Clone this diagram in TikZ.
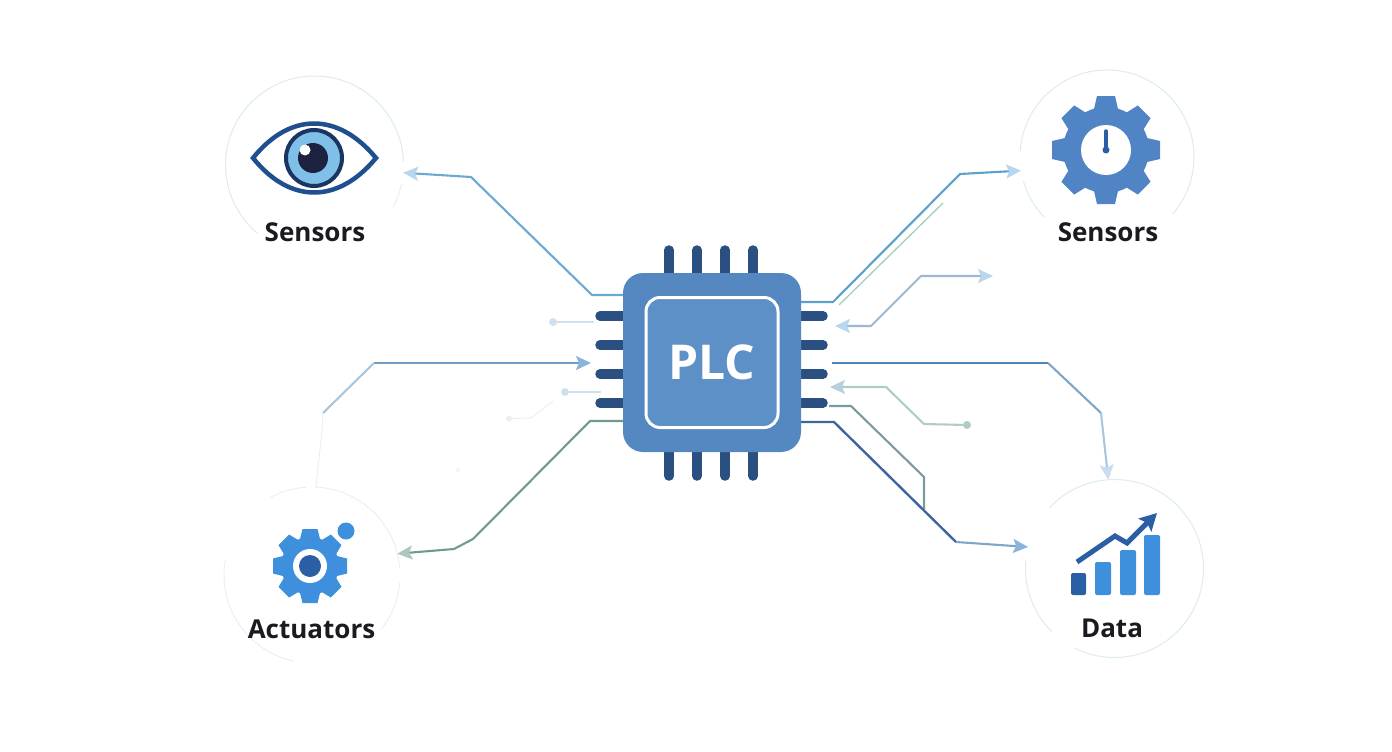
\documentclass[tikz,border=0pt]{standalone}
\usepackage{fontspec}
\usetikzlibrary{arrows.meta}
\setmainfont{Open Sans}
\definecolor{chipblue}{HTML}{5588C0}
\definecolor{chipinner}{HTML}{5E90C8}
\definecolor{pinblue}{HTML}{2A5082}
\definecolor{ringblue}{HTML}{DCEBF2}
\definecolor{ringfaint}{HTML}{E8F0F2}
\definecolor{inkblack}{HTML}{1A1A20}
\definecolor{iconblue}{HTML}{3F90DC}
\definecolor{iconnavy}{HTML}{2A5EA5}
\definecolor{gearblue}{HTML}{5084C4}
\definecolor{iconeye}{HTML}{1F4F8F}
\definecolor{eyedark}{HTML}{1A3560}
\definecolor{eyeblue}{HTML}{7FBFE8}
\definecolor{eyepupil}{HTML}{1C2240}
\definecolor{wireteal}{HTML}{6AAAD0}
\definecolor{wiresky}{HTML}{5EA0CC}
\definecolor{wiremint}{HTML}{A0CFC0}
\definecolor{wireslate}{HTML}{9DB8D0}
\definecolor{wiredeep}{HTML}{4F86B8}
\definecolor{wiremid}{HTML}{7FA5C8}
\definecolor{wirepale}{HTML}{A8C6DE}
\definecolor{wiresage}{HTML}{B0CCC8}
\definecolor{wiregrey}{HTML}{7A9AA0}
\definecolor{wiredark}{HTML}{3F65A0}
\definecolor{wiregreen}{HTML}{6F9A90}
\definecolor{stubblue}{HTML}{D0E0EC}
\definecolor{tipA}{HTML}{B8D6EE}
\definecolor{tipB}{HTML}{C8DEF0}
\definecolor{tipC}{HTML}{B8D0DC}
\definecolor{tipD}{HTML}{8AB4DC}
\definecolor{tipE}{HTML}{A8C8C0}
\tikzset{
  ringnode/.style={circle,minimum size=#1,inner sep=0pt,outer sep=0pt},
  ring/.style={draw=ringblue,line width=1pt},
  badge/.style={font=\bfseries\fontsize{26}{30}\selectfont,text=inkblack,inner sep=0pt},
  pinline/.style={draw=pinblue,line width=9.5pt,line cap=round},
  wire/.style={line width=2.1pt},
  tipped/.style={-{Stealth[length=15pt,width=14pt,inset=3pt,color=#1]}},
  tippedboth/.style={{Stealth[length=15pt,width=14pt,inset=3pt,color=#1]}-{Stealth[length=15pt,width=14pt,inset=3pt,color=#1]}},
  stub/.style={circle,fill=#1,inner sep=0pt,minimum size=8pt},
  bar/.style={fill=#1,rounded corners=2pt},
}
% gear: centre, body radius, outer radius, half base, half top, colour
\newcommand{\gearicon}[6]{
  \fill[#6] (#1) circle (#2pt);
  \foreach \a in {0,45,...,315}
    \fill[#6,shift={(#1)},rotate=\a] (-#4,#2-2) -- (-#5,#3) -- (#5,#3) -- (#4,#2-2) -- cycle;
}
\begin{document}
\begin{tikzpicture}[x=1pt,y=1pt]
  \useasboundingbox (0,0) rectangle (1392,-752);
  % rings
  \node[ringnode=178pt] (eyeRing) at (314.5,-165) {};
  \node[ringnode=174pt] (gearRing) at (1107,-157) {};
  \node[ringnode=176pt] (actRing) at (312,-575) {};
  \node[ringnode=178pt] (dataRing) at (1114.5,-568.5) {};
  \draw[ring] (eyeRing.2) arc[start angle=2,end angle=230,radius=89pt];
  \draw[ring,ringfaint] (eyeRing.-28) arc[start angle=-28,end angle=-12,radius=89pt];
  \draw[ring] (gearRing.-41) arc[start angle=-41,end angle=176,radius=87pt];
  \draw[ring] (gearRing.196) arc[start angle=196,end angle=224,radius=87pt];
  \draw[ring,ringfaint] (actRing.88) arc[start angle=88,end angle=4,radius=88pt];
  \draw[ring,ringfaint] (actRing.-5) arc[start angle=-5,end angle=-38,radius=88pt];
  \draw[ring,ringfaint] (actRing.118) arc[start angle=118,end angle=94,radius=88pt];
  \draw[ring,ringfaint] (actRing.170) arc[start angle=170,end angle=258,radius=88pt];
  \draw[ring] (dataRing.137) arc[start angle=137,end angle=-117,radius=89pt];
  \draw[ring] (dataRing.175) arc[start angle=175,end angle=225,radius=89pt];

  % chip
  \foreach \x in {669,697,725,753} {
    \draw[pinline] (\x,-250) -- (\x,-275);
    \draw[pinline] (\x,-476) -- (\x,-450);
  }
  \foreach \y in {316,345,374,403} {
    \draw[pinline] (600,-\y) -- (625,-\y);
    \draw[pinline] (823,-\y) -- (799,-\y);
  }
  \node[fill=chipblue,rounded corners=20pt,minimum width=178pt,minimum height=179pt,inner sep=0pt,outer sep=0pt] (chip) at (712,-362.5) {};
  \node[draw=white,fill=chipinner,line width=3pt,rounded corners=14pt,minimum width=132pt,minimum height=130pt,inner sep=0pt,
    text=white,font=\bfseries\fontsize{48}{54}\selectfont] (plc) at (712,-362.5) {PLC};

  % wires
  \coordinate (dataBend) at (1101,-413);
  \coordinate (dataHead) at (1048,-363);
  \coordinate (outBend) at (956,-542);
  \coordinate (inBend) at (374,-363);
  \coordinate (inFoot) at (323,-413);
  \coordinate (inFade) at (322,-430);
  \coordinate (inEnd) at (316,-487);
  \coordinate (probeA) at (839,-305);
  \coordinate (probeB) at (943,-203);
  \coordinate (pinTipA) at (835,-326);
  \coordinate (pinTipB) at (993,-276);
  \coordinate (pinTipC) at (830,-387);
  \coordinate (inTip) at (591,-363);
  \coordinate (outStart) at (832,-363);
  \coordinate (tapStart) at (829,-406);
  \coordinate (tapEnd) at (924,-509);
  \coordinate (stubA) at (594,-322);
  \coordinate (stubB) at (601,-392);
  \coordinate (stubC) at (553,-401);

  \draw[wire,draw=wireteal,tipped=tipA] (chip.west |- 0,-295) -- (592,-295) -- (471,-177) -- (eyeRing.-5);
  \draw[wire,draw=wiresky,tipped=tipA] (chip.east |- 0,-302) -- (833,-302) -- (960,-174) -- (gearRing.189);
  \draw[line width=1.3pt,draw=wiremint] (probeA) -- (probeB);
  \draw[wire,draw=wireslate,tippedboth=tipA] (pinTipA) -- (871,-326) -- (921,-276) -- (pinTipB);
  \draw[wire,draw=wiredeep] (outStart) -- (dataHead);
  \draw[wire,draw=wiremid] (dataHead) -- (dataBend);
  \draw[wire,draw=wirepale,tipped=tipB] (dataBend) -- (dataRing.94);
  \node[stub=wiresage] (stubSage) at (967,-425) {};
  \draw[wire,draw=wiresage,tipped=tipC] (stubSage) -- (924,-424) -- (886,-387) -- (pinTipC);
  \draw[wire,draw=wiregrey] (tapStart) -- (851,-406) -- (924,-477) -- (tapEnd);
  \draw[wire,draw=wiredark,line width=2.4pt] (chip.east |- 0,-422) -- (834,-422) -- (outBend);
  \draw[wire,draw=wiremid,tipped=tipD] (outBend) -- (dataRing.166);
  \draw[wire,draw=wiredeep!80,tipped=tipD] (inBend) -- (inTip);
  \draw[wire,draw=wirepale] (inFoot) -- (inBend);
  \draw[line width=1pt,draw=ringfaint] (inFoot) -- (inFade) -- (inEnd);
  \draw[wire,draw=wiregreen,tipped=tipE] (chip.west |- 0,-421) -- (590,-421) -- (473,-539) -- (454,-549) -- (actRing.14);

  % faint stubs
  \node[stub=stubblue] (dotA) at (553,-322) {};
  \node[stub=stubblue] (dotB) at (565,-392) {};
  \node[stub=ringfaint,minimum size=6pt] (dotC) at (509,-418.5) {};
  \node[stub=ringfaint!60,minimum size=5pt] (dotD) at (458,-470) {};
  \draw[line width=1.2pt,draw=stubblue] (dotA) -- (stubA);
  \draw[line width=1.2pt,draw=stubblue] (dotB) -- (stubB);
  \draw[line width=1pt,draw=ringfaint] (dotC) -- (531,-418) -- (stubC);

  % eye
  \draw[draw=iconeye,line width=4.5pt,line join=miter] (253,-158) .. controls (290,-112) and (338,-112) .. (376,-158) .. controls (338,-204) and (290,-204) .. cycle;
  \draw[draw=eyedark,fill=eyeblue,line width=4pt] (314,-158) circle (28pt);
  \fill[eyepupil] (313,-158) circle (15pt);
  \fill[white] (305,-150) circle (5.5pt);

  % gauge gear
  \gearicon{1106,-150}{43}{54}{12}{9}{gearblue}
  \fill[white] (1106,-150) circle (25pt);
  \draw[draw=iconnavy,line width=3.5pt,line cap=round] (1106,-131) -- (1106,-150);
  \fill[iconnavy] (1106,-150) circle (3.5pt);

  % actuator gear
  \gearicon{310,-566}{29}{37}{10}{7.5}{iconblue}
  \fill[white] (310,-566) circle (17pt);
  \fill[iconnavy] (310,-566) circle (11pt);
  \fill[iconblue] (346,-531) circle (8.5pt);

  % bars
  \fill[bar=iconnavy] (1071,-595) rectangle (1086,-573);
  \fill[bar=iconblue] (1095,-595) rectangle (1111,-562);
  \fill[bar=iconblue] (1120,-595) rectangle (1136,-550);
  \fill[bar=iconblue] (1144,-595) rectangle (1160,-535);
  \draw[draw=iconnavy,line width=5pt,-{Stealth[length=17pt,width=18pt,inset=3pt]}] (1077,-562) -- (1115,-536) -- (1127,-543) -- (1157,-513);

  % labels
  \node[badge] (eyeLabel) at (315,-232) {Sensors};
  \node[badge] (gearLabel) at (1108,-232) {Sensors};
  \node[badge] (actLabel) at (311.5,-629) {Actuators};
  \node[badge] (dataLabel) at (1112,-628) {Data};
\end{tikzpicture}
\end{document}
